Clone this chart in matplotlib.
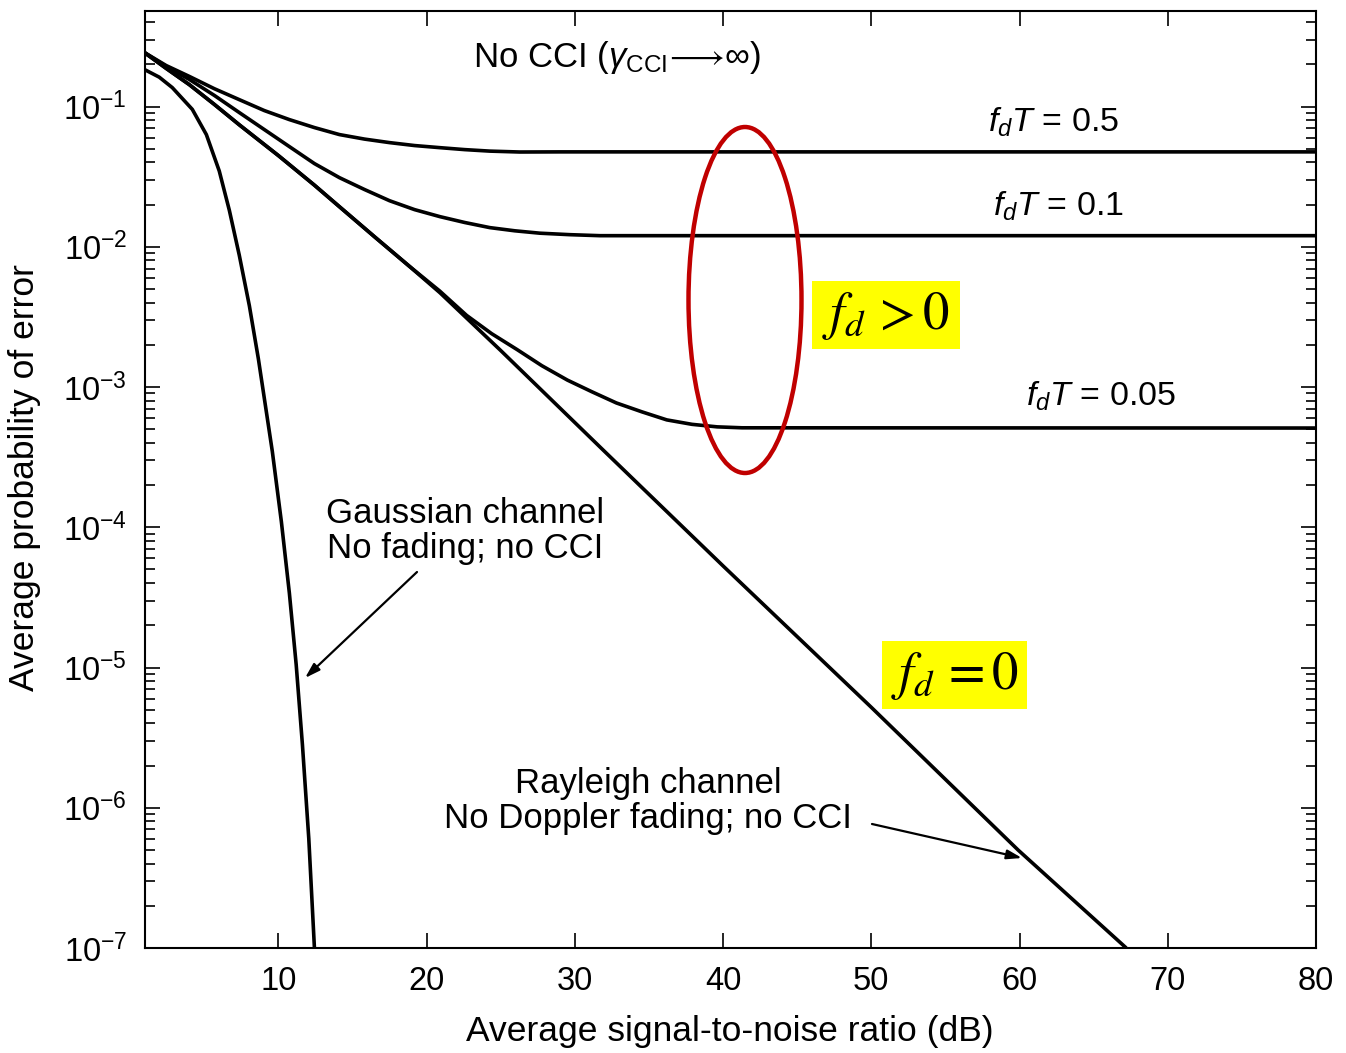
import matplotlib
matplotlib.use("Agg")
import matplotlib.pyplot as plt
from matplotlib.patches import Ellipse, Rectangle

# ---------------- data ----------------
gauss_db = [0.95, 1.96, 2.84, 4.19, 5.14, 6.01, 6.69, 7.36, 8.04, 8.65, 9.59, 10.2, 10.74,
            11.2, 11.62, 12.05, 12.43]
gauss_pe = [0.184, 0.162, 0.1365, 0.0955, 0.0631, 0.0347, 0.0182, 8.71e-3, 3.80e-3, 1.585e-3,
            3.47e-4, 1.096e-4, 3.39e-5, 1.047e-5, 2.82e-6, 6.03e-7, 1.0e-7]

rayl_db = [0.95, 2.43, 4.0, 5.68, 7.36, 10.0, 12.43, 14.12, 16.5, 18.85, 20.9, 25.0, 31.9,
           40.0, 50.0, 59.9, 67.2]
rayl_pe = [0.243, 0.187, 0.143, 0.1035, 0.0741, 0.0447, 0.0275, 0.0193, 0.01175, 7.24e-3,
           4.7e-3, 1.82e-3, 3.56e-4, 5.3e-5, 5.2e-6, 5.0e-7, 1.0e-7]

fd05_db = [0.95, 2.43, 3.99, 5.68, 7.36, 9.05, 10.74, 12.43, 14.12, 15.81, 17.5, 19.19,
           20.9, 22.57, 24.26, 26.28, 29.0, 80.0]
fd05_pe = [0.243, 0.196, 0.164, 0.134, 0.112, 0.0936, 0.0807, 0.0708, 0.0631, 0.0586,
           0.0553, 0.0527, 0.0509, 0.0493, 0.0481, 0.0474, 0.0475, 0.0475]

fd01_db = [0.95, 2.43, 3.99, 5.68, 7.36, 9.05, 10.74, 12.43, 14.12, 15.81, 17.5, 19.19,
           20.9, 22.57, 24.26, 25.95, 27.64, 29.66, 31.69, 80.0]
fd01_pe = [0.243, 0.193, 0.156, 0.120, 0.0906, 0.0685, 0.0518, 0.0392, 0.0311, 0.0256,
           0.0213, 0.0184, 0.0164, 0.0149, 0.0137, 0.0130, 0.0125, 0.0122, 0.0120, 0.0120]

fd005_db = [0.95, 2.43, 4.0, 5.68, 7.36, 10.0, 12.43, 14.12, 16.5, 18.85, 20.88, 22.7, 24.39,
            26.1, 27.77, 29.5, 31.15, 32.8, 34.53, 36.2, 37.9, 39.6, 41.28, 80.0]
fd005_pe = [0.243, 0.187, 0.143, 0.1035, 0.0741, 0.0447, 0.0275, 0.0193, 0.01175, 7.24e-3,
            4.84e-3, 3.24e-3, 2.40e-3, 1.85e-3, 1.42e-3, 1.12e-3, 9.25e-4, 7.7e-4, 6.65e-4,
            5.83e-4, 5.42e-4, 5.2e-4, 5.12e-4, 5.1e-4]

x_ticks = [10, 20, 30, 40, 50, 60, 70, 80]
y_ticks = [1e-7, 1e-6, 1e-5, 1e-4, 1e-3, 1e-2, 1e-1]

# ---------------- style ----------------
plt.rcParams['font.family'] = ['Liberation Sans', 'DejaVu Sans']
plt.rcParams['mathtext.fontset'] = 'custom'
plt.rcParams['mathtext.rm'] = 'Liberation Sans'
plt.rcParams['mathtext.it'] = 'Liberation Sans:italic'
plt.rcParams['mathtext.bf'] = 'Liberation Sans:bold'

W, H = 1346, 1053
fig = plt.figure(figsize=(W / 100, H / 100), dpi=100)

L, R, T, B = 145, 1316, 11, 948
ax = fig.add_axes([L / W, 1 - B / H, (R - L) / W, (B - T) / H])


def fx(px):
    return px / W


def fy(py):
    return 1 - py / H


lw = 2.6
for xs, ys in [(gauss_db, gauss_pe), (rayl_db, rayl_pe), (fd05_db, fd05_pe),
               (fd01_db, fd01_pe), (fd005_db, fd005_pe)]:
    ax.plot(xs, ys, color='black', lw=lw, solid_capstyle='butt', solid_joinstyle='round')

ax.set_yscale('log')
ax.set_xlim(1, 80)
ax.set_ylim(1e-7, 0.48)
ax.set_xticks(x_ticks)
ax.set_yticks(y_ticks)
ax.tick_params(which='both', direction='in', top=True, right=True, width=1.2)
ax.tick_params(which='major', length=11, labelsize=23.5, pad=13)
ax.tick_params(which='minor', length=7)
ax.tick_params(axis='x', which='minor', bottom=False, top=False)
for s in ax.spines.values():
    s.set_linewidth(1.5)

TXT = 25.5
fig.text(fx(730), fy(1032), 'Average signal-to-noise ratio (dB)', ha='center', va='center', fontsize=TXT)
fig.text(fx(25), fy(478), 'Average probability of error', ha='center', va='center', fontsize=TXT, rotation=90)

# annotations
fig.text(fx(617), fy(57), r'No CCI ($\gamma_{\mathrm{CCI}}\!\longrightarrow\!\infty$)',
         ha='center', va='center', fontsize=25)
fig.text(fx(1053), fy(122), r'$f_dT$ = 0.5', ha='center', va='center', fontsize=24.5)
fig.text(fx(1058), fy(206), r'$f_dT$ = 0.1', ha='center', va='center', fontsize=24.5)
fig.text(fx(1101), fy(396), r'$f_dT$ = 0.05', ha='center', va='center', fontsize=24.5)

fig.text(fx(465), fy(531), 'Gaussian channel\nNo fading; no CCI', ha='center', va='center',
         fontsize=25, linespacing=1.05)
fig.text(fx(648), fy(801), 'Rayleigh channel\nNo Doppler fading; no CCI', ha='center', va='center',
         fontsize=25, linespacing=1.05)

arrow = dict(arrowstyle='-|>,head_length=0.9,head_width=0.28', color='black', lw=1.6,
             shrinkA=0, shrinkB=0)
ax.annotate('', xy=(fx(305), fy(678)), xycoords='figure fraction',
            xytext=(fx(417), fy(572)), textcoords='figure fraction', arrowprops=arrow)
ax.annotate('', xy=(fx(1022), fy(858)), xycoords='figure fraction',
            xytext=(fx(872), fy(824)), textcoords='figure fraction', arrowprops=arrow)

# red ellipse
ell = Ellipse((fx(745), fy(300)), 113 / W, 346 / H, transform=fig.transFigure,
              fill=False, edgecolor='#C00000', lw=3.2)
fig.patches.append(ell)

# yellow boxes
for (x0, y0, x1, y1) in [(812, 281, 960, 349), (882, 641, 1027, 709)]:
    rect = Rectangle((fx(x0), fy(y1)), (x1 - x0) / W, (y1 - y0) / H, transform=fig.transFigure,
                     facecolor='#FFFF00', edgecolor='none', zorder=0)
    fig.patches.append(rect)

fig.text(fx(886), fy(316), r'$f_d\, > 0$', ha='center', va='center', fontsize=38, math_fontfamily='stix')
fig.text(fx(955), fy(676), r'$f_d\, = 0$', ha='center', va='center', fontsize=38, math_fontfamily='stix')

fig.savefig('out.png', dpi=100)
